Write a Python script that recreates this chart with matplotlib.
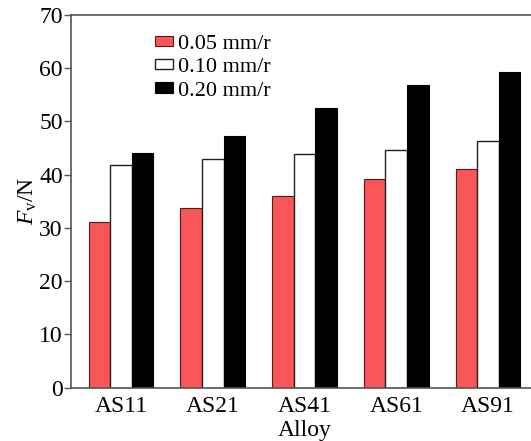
import numpy as np
import matplotlib
matplotlib.use('Agg')
import matplotlib.pyplot as plt

plt.rcParams['font.family'] = 'Liberation Serif'
plt.rcParams['mathtext.fontset'] = 'custom'
plt.rcParams['mathtext.rm'] = 'Liberation Serif'
plt.rcParams['mathtext.it'] = 'Liberation Serif:italic'

alloys = ['AS11', 'AS21', 'AS41', 'AS61', 'AS91']
f005 = [31.1, 33.7, 36.0, 39.2, 41.1]
f010 = [41.9, 42.9, 43.9, 44.7, 46.4]
f020 = [44.1, 47.3, 52.5, 56.9, 59.3]
labels = ['0.05 mm/r', '0.10 mm/r', '0.20 mm/r']

fig = plt.figure(figsize=(5.31, 4.41), dpi=100)
ax = fig.add_axes([71/531, 1 - 387.5/441, (538-71)/531, (387.5-15)/441])

x = np.arange(len(alloys))
w = 0.235
ax.bar(x - w, f005, w, color='#F85658', edgecolor='#5a1a1a', linewidth=0.8, label=labels[0])
ax.bar(x, f010, w, color='white', edgecolor='#222222', linewidth=1.0, label=labels[1])
ax.bar(x + w, f020, w, color='black', edgecolor='black', linewidth=0.8, label=labels[2])

ax.set_xlim(-0.545, 4.545)
ax.set_ylim(0, 70)
ax.set_yticks(range(0, 71, 10))
ax.set_xticks(x)
ax.set_xticklabels(alloys)
ax.tick_params(axis='x', length=0, labelsize=17, pad=6)
ax.tick_params(axis='y', length=5, width=1, direction='out', labelsize=17, pad=1, color='#555555')
for s in ax.spines.values():
    s.set_color('#555555')
    s.set_linewidth(1.2)

ax.set_xlabel('Alloy', fontsize=17, labelpad=2)
ax.set_ylabel(r'$F_{\mathrm{v}}$/N', fontsize=17, labelpad=0)

ax.legend(loc='upper left', bbox_to_anchor=(0.18, 0.947), frameon=False, fontsize=16,
          handlelength=0.8, handleheight=0.35, handletextpad=0.25, labelspacing=0.2,
          borderaxespad=0, borderpad=0)

fig.savefig('out.png', dpi=100)
